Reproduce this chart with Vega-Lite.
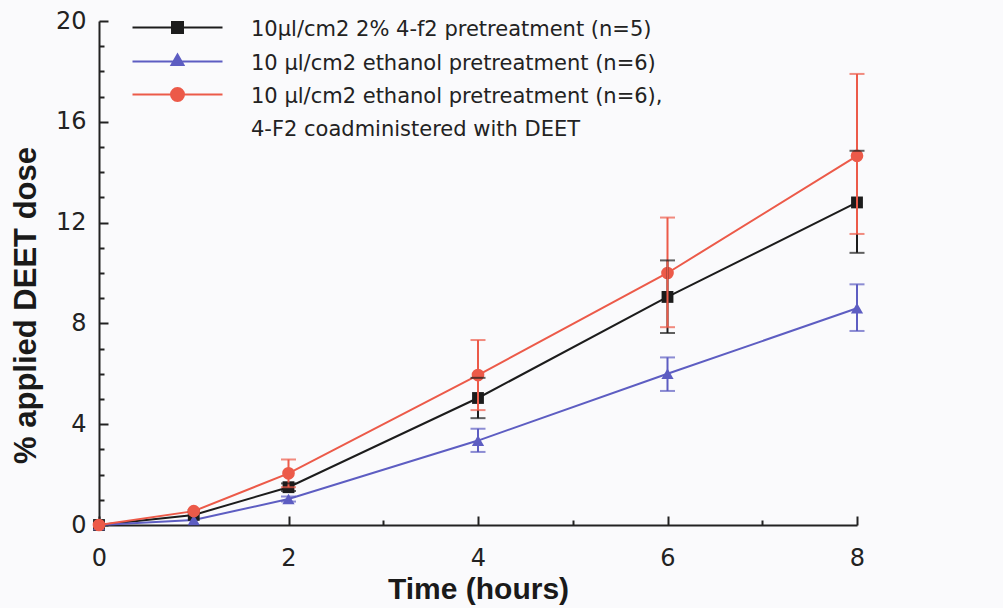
{
  "$schema": "https://vega.github.io/schema/vega-lite/v6.json",
  "width": 758,
  "height": 504,
  "autosize": "none",
  "padding": {"left": 99, "top": 21, "right": 146, "bottom": 83},
  "background": "#fafafc",
  "config": {
    "view": {"stroke": null},
    "axis": {"grid": false, "domainColor": "#222", "domainWidth": 2, "tickColor": "#222", "tickWidth": 2, "labelColor": "#222", "titleColor": "#1a1a1a", "labelFlush": false},
    "legend": {
      "title": null, "orient": "none", "legendX": 68, "legendY": -4, "padding": 0,
      "labelFont": "DejaVu Sans", "labelFontSize": 21, "labelColor": "#222", "labelLimit": 800,
      "labelOffset": 63, "labelBaseline": "alphabetic",
      "symbolSize": 100, "symbolStrokeWidth": 2, "rowPadding": 10
    }
  },
  "data": {
    "values": [
      {"series": "10µl/cm2 2% 4-f2 pretreatment (n=5)", "t": 0, "y": 0, "lo": null, "hi": null},
      {"series": "10µl/cm2 2% 4-f2 pretreatment (n=5)", "t": 1, "y": 0.4, "lo": null, "hi": null},
      {"series": "10µl/cm2 2% 4-f2 pretreatment (n=5)", "t": 2, "y": 1.5, "lo": 1.35, "hi": 1.65},
      {"series": "10µl/cm2 2% 4-f2 pretreatment (n=5)", "t": 4, "y": 5.04, "lo": 4.24, "hi": 5.84},
      {"series": "10µl/cm2 2% 4-f2 pretreatment (n=5)", "t": 6, "y": 9.05, "lo": 7.62, "hi": 10.5},
      {"series": "10µl/cm2 2% 4-f2 pretreatment (n=5)", "t": 8, "y": 12.8, "lo": 10.8, "hi": 14.85},
      {"series": "10 µl/cm2 ethanol pretreatment (n=6)", "t": 0, "y": 0, "lo": null, "hi": null},
      {"series": "10 µl/cm2 ethanol pretreatment (n=6)", "t": 1, "y": 0.2, "lo": null, "hi": null},
      {"series": "10 µl/cm2 ethanol pretreatment (n=6)", "t": 2, "y": 1.03, "lo": 0.93, "hi": 1.13},
      {"series": "10 µl/cm2 ethanol pretreatment (n=6)", "t": 4, "y": 3.35, "lo": 2.9, "hi": 3.82},
      {"series": "10 µl/cm2 ethanol pretreatment (n=6)", "t": 6, "y": 6.0, "lo": 5.32, "hi": 6.65},
      {"series": "10 µl/cm2 ethanol pretreatment (n=6)", "t": 8, "y": 8.6, "lo": 7.7, "hi": 9.55},
      {"series": "10 µl/cm2 ethanol pretreatment (n=6),| 4-F2 coadministered with DEET", "t": 0, "y": 0, "lo": null, "hi": null},
      {"series": "10 µl/cm2 ethanol pretreatment (n=6),| 4-F2 coadministered with DEET", "t": 1, "y": 0.55, "lo": null, "hi": null},
      {"series": "10 µl/cm2 ethanol pretreatment (n=6),| 4-F2 coadministered with DEET", "t": 2, "y": 2.05, "lo": 1.5, "hi": 2.6},
      {"series": "10 µl/cm2 ethanol pretreatment (n=6),| 4-F2 coadministered with DEET", "t": 4, "y": 5.95, "lo": 4.56, "hi": 7.34},
      {"series": "10 µl/cm2 ethanol pretreatment (n=6),| 4-F2 coadministered with DEET", "t": 6, "y": 10.0, "lo": 7.85, "hi": 12.2},
      {"series": "10 µl/cm2 ethanol pretreatment (n=6),| 4-F2 coadministered with DEET", "t": 8, "y": 14.65, "lo": 11.55, "hi": 17.9}
    ]
  },
  "encoding": {
    "x": {"field": "t", "type": "quantitative", "scale": {"domain": [0, 8], "nice": false, "zero": false}, "axis": null},
    "y": {"field": "y", "type": "quantitative", "scale": {"domain": [0, 20], "nice": false}, "axis": null},
    "color": {
      "field": "series", "type": "nominal",
      "scale": {
        "domain": ["10µl/cm2 2% 4-f2 pretreatment (n=5)", "10 µl/cm2 ethanol pretreatment (n=6)", "10 µl/cm2 ethanol pretreatment (n=6),| 4-F2 coadministered with DEET"],
        "range": ["#1c1c1c", "#5d5dc2", "#ec5a49"]
      },
      "legend": {
        "labelExpr": "split(datum.label, '|')",
        "encode": {"labels": {"update": {"dy": {"value": 8}, "lineHeight": {"value": 33}}}}
      }
    }
  },
  "layer": [
    {
      "mark": {"type": "line", "strokeWidth": 2},
      "encoding": {
        "x": {"field": "t", "type": "quantitative",
          "axis": {"orient": "bottom", "values": [0, 2, 4, 6, 8], "tickSize": -9, "labelPadding": 30, "labelFont": "DejaVu Sans", "labelFontSize": 24, "title": "Time (hours)", "titleFont": "Liberation Sans", "titleFontWeight": "bold", "titleFontSize": 30, "titlePadding": 4}},
        "y": {"field": "y", "type": "quantitative",
          "axis": {"orient": "left", "values": [0, 4, 8, 12, 16, 20], "tickSize": -9, "labelPadding": 22, "labelFont": "DejaVu Sans", "labelFontSize": 24, "title": "% applied DEET dose", "titleFont": "Liberation Sans", "titleFontWeight": "bold", "titleFontSize": 31, "titleX": -57, "titleY": 284}}
      }
    },
    {
      "transform": [{"filter": "datum.series === '10µl/cm2 2% 4-f2 pretreatment (n=5)'"}],
      "mark": {"type": "point", "filled": true, "size": 140, "opacity": 1, "shape": "square"},
      "encoding": {
        "x": {"field": "t", "type": "quantitative", "axis": {"orient": "bottom", "values": [1, 3, 5, 7], "tickSize": -5, "labels": false, "domain": false, "title": null}},
        "y": {"field": "y", "type": "quantitative", "axis": {"orient": "left", "values": [1, 2, 3, 5, 6, 7, 9, 10, 11, 13, 14, 15, 17, 18, 19], "tickSize": -5, "labels": false, "domain": false, "title": null}}
      }
    },
    {
      "transform": [{"filter": "datum.series === '10 µl/cm2 ethanol pretreatment (n=6)'"}],
      "mark": {"type": "point", "filled": true, "size": 150, "opacity": 1, "shape": "triangle-up"}
    },
    {
      "transform": [{"filter": "indexof(datum.series, 'coadministered') >= 0"}],
      "mark": {"type": "point", "filled": true, "size": 160, "opacity": 1, "shape": "circle"}
    },
    {
      "mark": {"type": "rule", "strokeWidth": 2},
      "encoding": {
        "y": {"field": "lo", "type": "quantitative"},
        "y2": {"field": "hi"}
      }
    },
    {
      "mark": {"type": "tick", "thickness": 2, "size": 15, "orient": "horizontal"},
      "encoding": {"y": {"field": "lo", "type": "quantitative"}}
    },
    {
      "mark": {"type": "tick", "thickness": 2, "size": 15, "orient": "horizontal"},
      "encoding": {"y": {"field": "hi", "type": "quantitative"}}
    },
    {
      "transform": [{"filter": "false"}],
      "mark": {"type": "point", "filled": true, "opacity": 1, "strokeWidth": 2},
      "encoding": {
        "shape": {
          "field": "series", "type": "nominal",
          "scale": {
            "domain": ["10µl/cm2 2% 4-f2 pretreatment (n=5)", "10 µl/cm2 ethanol pretreatment (n=6)", "10 µl/cm2 ethanol pretreatment (n=6),| 4-F2 coadministered with DEET"],
            "range": ["M-9,0H9M-1.1,-1.1H1.1V1.1H-1.1Z", "M-9,0H9M0,-1.4L1.2,0.7H-1.2Z", "M-9,0H9M-1.3,0A1.3,1.3 0 1,0 1.3,0A1.3,1.3 0 1,0 -1.3,0Z"]
          },
          "legend": {"labelExpr": "split(datum.label, '|')", "encode": {"labels": {"update": {"dy": {"value": 8}, "lineHeight": {"value": 33}}}}}
        },
        "stroke": {
          "field": "series", "type": "nominal",
          "scale": {
            "domain": ["10µl/cm2 2% 4-f2 pretreatment (n=5)", "10 µl/cm2 ethanol pretreatment (n=6)", "10 µl/cm2 ethanol pretreatment (n=6),| 4-F2 coadministered with DEET"],
            "range": ["#1c1c1c", "#5d5dc2", "#ec5a49"]
          },
          "legend": {"labelExpr": "split(datum.label, '|')", "encode": {"labels": {"update": {"dy": {"value": 8}, "lineHeight": {"value": 33}}}}}
        }
      }
    }
  ],
  "resolve": {"axis": {"x": "independent", "y": "independent"}}
}
